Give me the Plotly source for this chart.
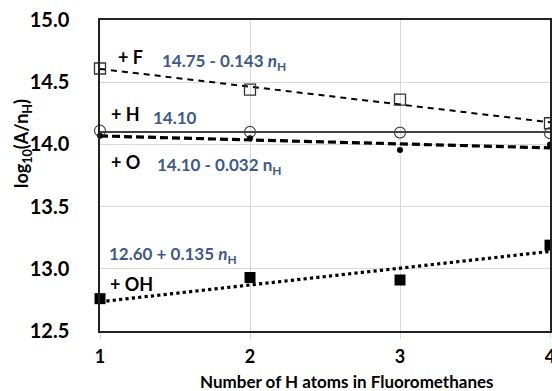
import plotly.graph_objects as go

x = [1, 2, 3, 4]
f_vals = [14.61, 14.44, 14.36, 14.17]
h_vals = [14.11, 14.10, 14.095, 14.09]
o_vals = [14.07, 14.05, 13.955, 14.00]
oh_vals = [12.76, 12.93, 12.91, 13.19]

fit_x = [1, 4]
f_fit = [14.607, 14.178]
h_fit = [14.10, 14.10]
o_fit = [14.068, 13.972]
oh_fit = [12.735, 13.14]

FONT = "Lato"
BLUE = "#3d5a8a"

fig = go.Figure()
# fit lines
fig.add_trace(go.Scatter(x=fit_x, y=f_fit, mode="lines",
                         line=dict(color="black", width=2, dash="6px,5px"), cliponaxis=False))
fig.add_trace(go.Scatter(x=fit_x, y=h_fit, mode="lines",
                         line=dict(color="black", width=1.6), cliponaxis=False))
fig.add_trace(go.Scatter(x=fit_x, y=o_fit, mode="lines",
                         line=dict(color="black", width=3.2, dash="8px,4px"), cliponaxis=False))
fig.add_trace(go.Scatter(x=fit_x, y=oh_fit, mode="lines",
                         line=dict(color="black", width=3.2, dash="dot"), cliponaxis=False))
# markers
fig.add_trace(go.Scatter(x=x, y=f_vals, mode="markers", cliponaxis=False,
                         marker=dict(symbol="square-open", size=11, color="#333", line=dict(width=1.3))))
fig.add_trace(go.Scatter(x=x, y=h_vals, mode="markers", cliponaxis=False,
                         marker=dict(symbol="circle-open", size=11, color="#444", line=dict(width=1.2))))
fig.add_trace(go.Scatter(x=x, y=o_vals, mode="markers", cliponaxis=False,
                         marker=dict(symbol="circle", size=6, color="black")))
fig.add_trace(go.Scatter(x=x, y=oh_vals, mode="markers", cliponaxis=False,
                         marker=dict(symbol="square", size=11, color="black")))

def ann(xp, yp, text, color="black", size=16, angle=0, xanchor="left"):
    fig.add_annotation(x=xp, y=yp, xref="paper", yref="paper", text=text, showarrow=False,
                       xanchor=xanchor, yanchor="middle", textangle=angle,
                       font=dict(family=FONT, size=size, color=color, weight="bold"))

H = 311.0
def py(pix):
    return 1 - (pix - 20) / H
def px(pix):
    return (pix - 100) / 450.0

ann(px(116), py(57), "+ F", size=18)
ann(px(160), py(62), "14.75 - 0.143 <i>n</i><sub>H</sub>", BLUE, 17)
ann(px(109), py(114), "+ H", size=18)
ann(px(151), py(117), "14.10", BLUE, 17)
ann(px(109), py(162), "+ O", size=18)
ann(px(155), py(166), "14.10 - 0.032 n<sub>H</sub>", BLUE, 17)
ann(px(107), py(255), "12.60 + 0.135 <i>n</i><sub>H</sub>", BLUE, 17)
ann(px(108), py(284), "+ OH", size=18)
# axis titles
ann(px(347), py(381), "Number of H atoms in Fluoromethanes", size=17, xanchor="center")
ann(px(22), py(144), "log<sub>10</sub>(A/n<sub>H</sub>)", size=18, angle=-90, xanchor="center")

fig.update_layout(
    width=552, height=391,
    margin=dict(l=100, r=2, t=20, b=60, autoexpand=False),
    paper_bgcolor="white", plot_bgcolor="white",
    showlegend=False,
    font=dict(family=FONT, color="black"),
    xaxis=dict(range=[1, 4], tickvals=[1, 2, 3, 4], showgrid=True, gridcolor="#d9d9d9",
               gridwidth=1, showline=True, linecolor="#222", linewidth=1.5, mirror=True,
               ticks="outside", ticklen=6, tickcolor="#d9d9d9", zeroline=False,
               ticklabeloverflow="allow", automargin=False, ticklabelstandoff=3,
               tickfont=dict(size=18, family=FONT, weight="bold")),
    yaxis=dict(range=[12.5, 15.0], tickvals=[12.5, 13.0, 13.5, 14.0, 14.5, 15.0],
               ticktext=["12.5", "13.0", "13.5", "14.0", "14.5", "15.0"],
               showgrid=True, gridcolor="#d9d9d9", gridwidth=1, showline=True,
               linecolor="#222", linewidth=1.5, mirror=True, zeroline=False,
               ticks="outside", ticklen=25, tickcolor="rgba(0,0,0,0)", automargin=False,
               tickfont=dict(size=20, family=FONT, weight="bold")),
)

fig.write_html("out.html")
